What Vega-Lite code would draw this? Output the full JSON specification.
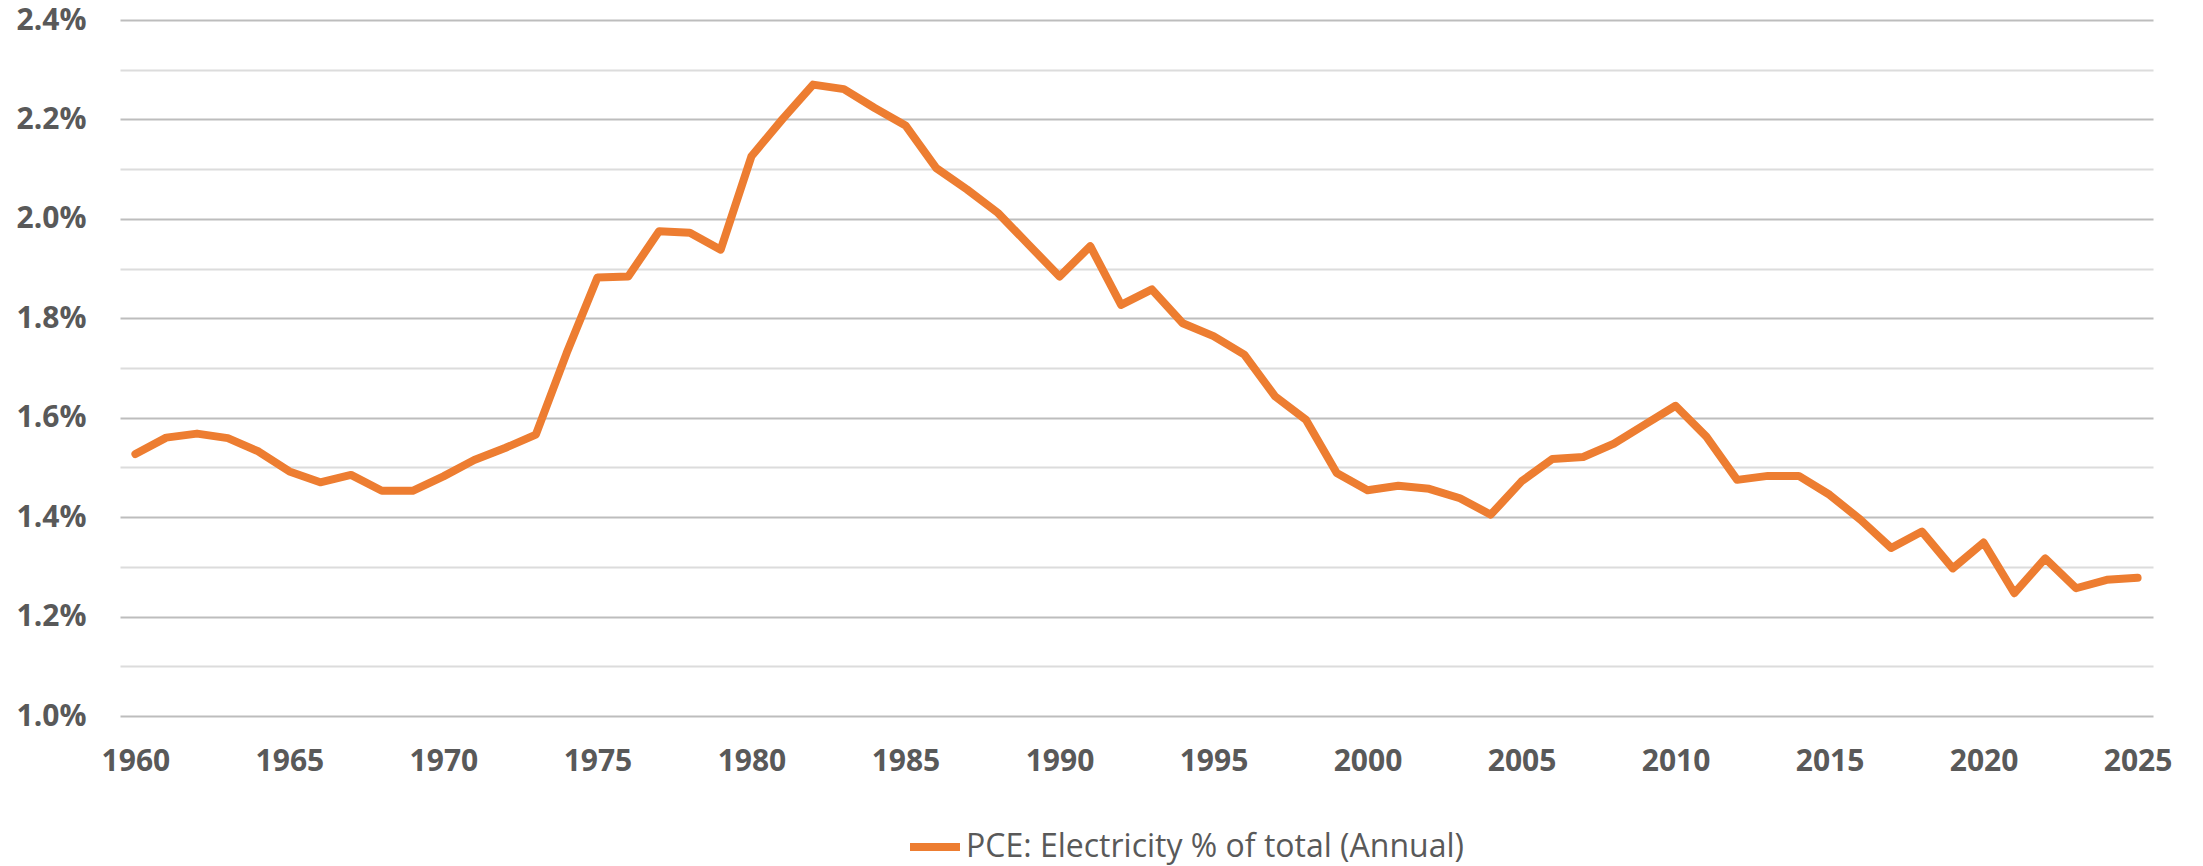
{
  "$schema": "https://vega.github.io/schema/vega-lite/v6.json",
  "width": 2033,
  "height": 696,
  "autosize": "none",
  "padding": {"left": 120, "top": 20, "right": 50, "bottom": 150},
  "background": "white",
  "data": {
    "values": [
      {"year": 1960, "pct": 1.527}, {"year": 1961, "pct": 1.560}, {"year": 1962, "pct": 1.568},
      {"year": 1963, "pct": 1.559}, {"year": 1964, "pct": 1.532}, {"year": 1965, "pct": 1.492},
      {"year": 1966, "pct": 1.470}, {"year": 1967, "pct": 1.485}, {"year": 1968, "pct": 1.453},
      {"year": 1969, "pct": 1.453}, {"year": 1970, "pct": 1.482}, {"year": 1971, "pct": 1.515},
      {"year": 1972, "pct": 1.539}, {"year": 1973, "pct": 1.566}, {"year": 1974, "pct": 1.730},
      {"year": 1975, "pct": 1.882}, {"year": 1976, "pct": 1.884}, {"year": 1977, "pct": 1.975},
      {"year": 1978, "pct": 1.972}, {"year": 1979, "pct": 1.938}, {"year": 1980, "pct": 2.126},
      {"year": 1981, "pct": 2.200}, {"year": 1982, "pct": 2.270}, {"year": 1983, "pct": 2.261},
      {"year": 1984, "pct": 2.223}, {"year": 1985, "pct": 2.188}, {"year": 1986, "pct": 2.102},
      {"year": 1987, "pct": 2.059}, {"year": 1988, "pct": 2.012}, {"year": 1989, "pct": 1.948},
      {"year": 1990, "pct": 1.884}, {"year": 1991, "pct": 1.945}, {"year": 1992, "pct": 1.827},
      {"year": 1993, "pct": 1.858}, {"year": 1994, "pct": 1.790}, {"year": 1995, "pct": 1.764},
      {"year": 1996, "pct": 1.727}, {"year": 1997, "pct": 1.643}, {"year": 1998, "pct": 1.596},
      {"year": 1999, "pct": 1.489}, {"year": 2000, "pct": 1.454}, {"year": 2001, "pct": 1.463},
      {"year": 2002, "pct": 1.457}, {"year": 2003, "pct": 1.438}, {"year": 2004, "pct": 1.405},
      {"year": 2005, "pct": 1.472}, {"year": 2006, "pct": 1.517}, {"year": 2007, "pct": 1.521},
      {"year": 2008, "pct": 1.548}, {"year": 2009, "pct": 1.586}, {"year": 2010, "pct": 1.624},
      {"year": 2011, "pct": 1.562}, {"year": 2012, "pct": 1.475}, {"year": 2013, "pct": 1.483},
      {"year": 2014, "pct": 1.483}, {"year": 2015, "pct": 1.445}, {"year": 2016, "pct": 1.395},
      {"year": 2017, "pct": 1.338}, {"year": 2018, "pct": 1.371}, {"year": 2019, "pct": 1.297},
      {"year": 2020, "pct": 1.349}, {"year": 2021, "pct": 1.247}, {"year": 2022, "pct": 1.317},
      {"year": 2023, "pct": 1.257}, {"year": 2024, "pct": 1.274}, {"year": 2025, "pct": 1.278}
    ]
  },
  "mark": {"type": "line", "strokeWidth": 8, "strokeCap": "round", "strokeJoin": "round"},
  "encoding": {
    "x": {
      "field": "year", "type": "quantitative",
      "scale": {"domain": [1959.5, 2025.5], "nice": false, "zero": false},
      "axis": {
        "title": null, "grid": false, "ticks": false, "domain": false,
        "values": [1960, 1965, 1970, 1975, 1980, 1985, 1990, 1995, 2000, 2005, 2010, 2015, 2020, 2025],
        "format": "d", "labelFont": "Open Sans", "labelFontWeight": "bold",
        "labelFontSize": 30, "labelColor": "#595959", "labelPadding": 30,
        "labelOverlap": false, "labelFlush": false
      }
    },
    "y": {
      "field": "pct", "type": "quantitative",
      "scale": {"domain": [1.0, 2.4], "nice": false, "zero": false},
      "axis": {
        "title": null, "ticks": false, "domain": false,
        "values": [1.0, 1.1, 1.2, 1.3, 1.4, 1.5, 1.6, 1.7, 1.8, 1.9, 2.0, 2.1, 2.2, 2.3, 2.4],
        "labelExpr": "round(datum.value*10) % 2 == 0 ? format(datum.value, '.1f') + '%' : ''",
        "labelFont": "Open Sans", "labelFontWeight": "bold", "labelFontSize": 30,
        "labelColor": "#595959", "labelPadding": 34, "labelOverlap": false,
        "grid": true, "gridWidth": 2,
        "gridColor": {"condition": {"test": "round(datum.value*10) % 2 == 0", "value": "#bdbdbd"}, "value": "#dcdcdc"}
      }
    },
    "color": {
      "datum": "PCE: Electricity % of total (Annual)",
      "scale": {"range": ["#ED7D31"]},
      "legend": {
        "title": null, "orient": "none", "legendX": 786, "legendY": 798,
        "symbolType": "stroke", "symbolSize": 2500, "symbolStrokeWidth": 8,
        "labelFont": "Open Sans", "labelFontSize": 32, "labelColor": "#595959",
        "labelOffset": 2, "labelLimit": 900
      }
    }
  },
  "config": {"view": {"stroke": null}}
}
